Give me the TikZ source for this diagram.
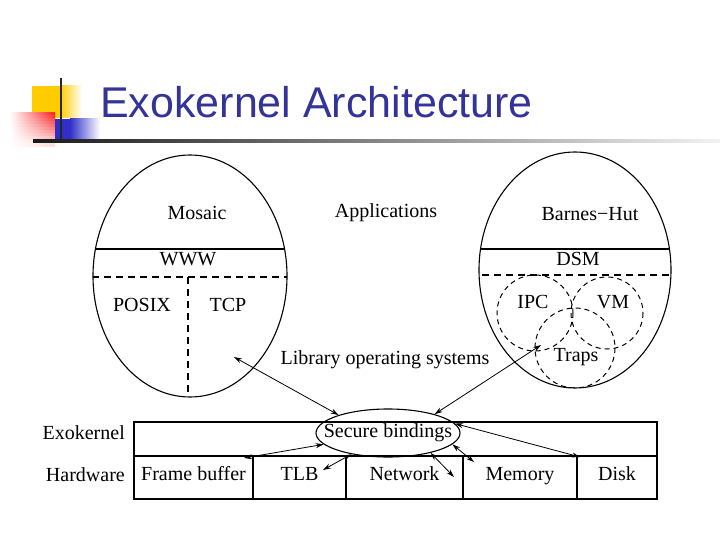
\documentclass[tikz,border=0pt]{standalone}
\usepackage{fontspec}
\setmainfont{Liberation Serif}
\newfontfamily\titlefont{Liberation Sans}
\usepackage{xcolor}
\usepackage{tikz}
\usetikzlibrary{shapes.geometric, arrows.meta, positioning}
\definecolor{titleblue}{RGB}{51,51,153}
\definecolor{decoyellow}{RGB}{255,204,0}
\definecolor{decored}{RGB}{250,30,30}
\definecolor{decoblue}{RGB}{48,48,200}
\tikzset{
    oval/.style={draw, ellipse, line width=1.1pt, inner sep=0pt},
    cell/.style={rectangle, draw, line width=1.4pt, inner sep=0pt, outer sep=0pt, minimum height=43pt, align=center, text height=13.5pt, text depth=8.5pt, font=\fontsize{20}{22}\selectfont},
    lbl/.style={font=\fontsize{20}{22}\selectfont, inner sep=0pt},
    darrow/.style={line width=0.8pt, {Stealth[length=8pt,width=5pt]}-{Stealth[length=8pt,width=5pt]}},
    divider/.style={line width=1.3pt},
    ddivider/.style={line width=1.3pt, dash pattern=on 7pt off 5pt},
    vdashed/.style={line width=1pt, dash pattern=on 5pt off 4pt}
}

\begin{document}
\begin{tikzpicture}[x=1pt, y=-1pt]
    \useasboundingbox (0,0) rectangle (720,540);

    % --- Title bar ---
    \fill [decoyellow] (32,86) rectangle (60,118);
    \shade [left color=decoyellow, right color=white] (60,86) rectangle (82,118);
    \foreach \i [evaluate=\i as \pct using 100-8.5*\i] in {0,...,10}
        \shade [left color=white, right color=decored!\pct] (10,{113+3*\i}) rectangle (55,{116.2+3*\i});
    \fill [decoblue] (55,119) rectangle (70,140);
    \shade [left color=decoblue, right color=white] (70,119) rectangle (100,140);
    \draw [line width=2pt, black!85] (61,78) -- (61,143);
    \shade [left color=black!90, middle color=black!55, right color=black!5] (33,140) rectangle (720,142.5);
    \node (title) [anchor=base west, inner sep=0pt, text=titleblue, font=\titlefont\fontsize{43}{48}\selectfont] at (100,118) {Exokernel Architecture};

    % --- Library operating systems ---
    \node (lib_left) [oval, minimum width=194pt, minimum height=242pt] at (190,276) {};
    \node (lib_right) [oval, minimum width=192pt, minimum height=236pt] at (575,270) {};

    \begin{scope}
        \clip (190,276) ellipse [x radius=97, y radius=121];
        \draw [divider] (80,249) -- (300,249);
        \draw [ddivider] (80,277) -- (300,277);
        \draw [ddivider] (188,277) -- (188,400);
    \end{scope}
    \begin{scope}
        \clip (575,270) ellipse [x radius=96, y radius=118];
        \draw [divider] (470,249) -- (680,249);
        \draw [ddivider] (470,275) -- (680,275);
        % overlapping abstractions
        \draw [vdashed] (535,313) circle [radius=38];
        \draw [vdashed] (607,313) circle [radius=36];
        \draw [vdashed] (575,348) circle [radius=40];
    \end{scope}

    \node (mosaic) [lbl] at (197,213) {Mosaic};
    \node (apps) [lbl] at (386,213) {Applications};
    \node (barnes) [lbl] at (590,214) {Barnes−Hut};
    \node (www) [lbl] at (188,259) {WWW};
    \node (dsm) [lbl] at (578,259) {DSM};
    \node (posix) [lbl] at (142,305) {POSIX};
    \node (tcp) [lbl] at (228,305) {TCP};
    \node (ipc) [lbl] at (533,302) {IPC};
    \node (vm) [lbl] at (613,302) {VM};
    \node (traps) [lbl] at (576,357) {Traps};
    \node (libos) [lbl] at (385,360) {Library operating systems};

    % --- Exokernel and hardware ---
    \node (exo) [cell, minimum width=523pt, minimum height=34pt, anchor=north west] at (134,422) {};
    \node (fb) [cell, minimum width=119pt, below=0pt of exo.south west, anchor=north west] {Frame buffer};
    \node (tlb) [cell, minimum width=93pt, right=0pt of fb] {TLB};
    \node (net) [cell, minimum width=117pt, right=0pt of tlb] {Network};
    \node (mem) [cell, minimum width=114pt, right=0pt of net] {Memory};
    \node (disk) [cell, minimum width=80pt, right=0pt of mem] {Disk};
    \node (exo_lbl) [lbl, left=9pt of exo, yshift=6pt] {Exokernel};
    \node (hw_lbl) [lbl, left=9pt of fb, yshift=3pt] {Hardware};

    \node (secure) [oval, minimum width=144pt, minimum height=48pt] at (388,433) {};
    \node (secure_txt) [lbl] at (secure) {Secure bindings};

    % free ends of the bindings
    \coordinate (left_end) at (234,357);
    \coordinate (right_end) at (541,345);
    \coordinate (fb_end) at (244,458);
    \coordinate (tlb_end) at (323,470);
    \coordinate (net_end) at (454,477);
    \coordinate (mem_end) at (474,462);
    \coordinate (disk_end) at (580,457);

    \draw [darrow] (secure.160) -- (left_end);
    \draw [darrow] (secure.22) -- (right_end);
    \draw [darrow] (secure.190) -- (fb_end);
    \draw [darrow] (secure.210) -- (tlb_end);
    \draw [darrow] (secure.335) -- (net_end);
    \draw [darrow] (secure.350) -- (mem_end);
    \draw [darrow] (secure.8) -- (disk_end);

\end{tikzpicture}
\end{document}
